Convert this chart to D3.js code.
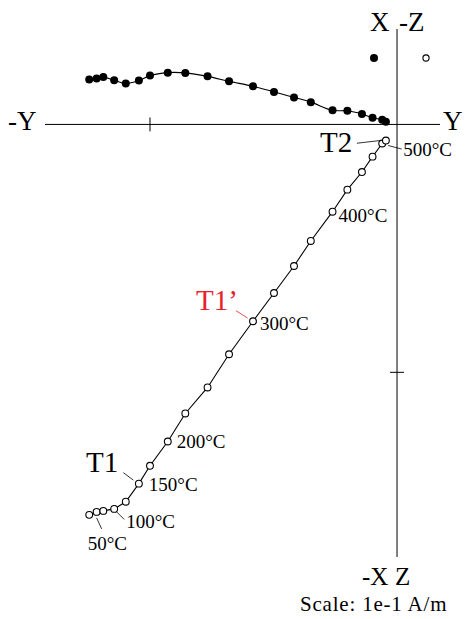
<!DOCTYPE html>
<html lang="en">
<head>
<meta charset="UTF-8">
<title>Zijderveld diagram</title>
<script src="https://cdn.jsdelivr.net/npm/d3@7"></script>
<style>
  body { margin: 0; background: #fff; }
  svg { display: block; font-family: "Liberation Serif", "DejaVu Serif", serif; }
</style>
</head>
<body>
<svg id="chart" width="467" height="619"></svg>
<script>
// demagnetisation steps (°C)
const temps = [25, 50, 75, 100, 125, 150, 175, 200, 225, 250, 275, 300, 325, 350, 375, 400, 425, 450, 475, 500, 525]
// components, units of 1e-1 A/m
const compY = [-1.246, -1.216, -1.189, -1.145, -1.098, -1.045, -1.000, -0.928, -0.857, -0.767, -0.680,
               -0.583, -0.498, -0.417, -0.349, -0.261, -0.201, -0.142, -0.099, -0.060, -0.045]
const compX = [0.181, 0.185, 0.191, 0.178, 0.165, 0.177, 0.197, 0.209, 0.208, 0.194, 0.174,
               0.154, 0.131, 0.109, 0.090, 0.057, 0.055, 0.042, 0.027, 0.019, 0.011]
const compZ = [1.575, 1.563, 1.559, 1.551, 1.522, 1.449, 1.377, 1.279, 1.166, 1.061, 0.927,
               0.794, 0.680, 0.571, 0.470, 0.352, 0.263, 0.192, 0.130, 0.077, 0.065]
const labelledTemps = [50, 100, 150, 200, 300, 400, 500]

const svg = d3.select('#chart')

const x = d3.scaleLinear().domain([-1.425, 0.174]).range([45, 440])
// screen-down axis: -X (horizontal plane) or +Z (vertical plane)
const y = d3.scaleLinear().domain([-0.385, 1.745]).range([29, 557])

const pts = temps.map((t, i) => ({ t, Y: compY[i], X: compX[i], Z: compZ[i] }))

// axes
const g = svg.append('g').attr('stroke', '#000').attr('stroke-width', 1)
g.append('line').attr('x1', x.range()[0]).attr('x2', x.range()[1]).attr('y1', y(0)).attr('y2', y(0))
g.append('line').attr('x1', x(0)).attr('x2', x(0)).attr('y1', y.range()[0]).attr('y2', y.range()[1])
g.append('line').attr('x1', x(-1)).attr('x2', x(-1)).attr('y1', y(0) - 7).attr('y2', y(0) + 7)
g.append('line').attr('x1', x(0) - 7).attr('x2', x(0) + 7).attr('y1', y(1)).attr('y2', y(1))

const axisText = [
    { t: '-Y', x: 8, y: 130, s: 27 },
    { t: 'Y', x: 443, y: 130, s: 27 },
    { t: 'X', x: 370, y: 31, s: 27 },
    { t: '-Z', x: 399, y: 31, s: 27 },
    { t: '-X', x: 362, y: 585, s: 25 },
    { t: 'Z', x: 395, y: 585, s: 25 },
]
svg.selectAll('text.ax').data(axisText).join('text')
    .attr('class', 'ax')
    .attr('x', d => d.x).attr('y', d => d.y)
    .style('font-size', d => `${d.s}px`)
    .text(d => d.t)

svg.append('text').attr('x', 300).attr('y', 611)
    .style('font-size', '21px').style('letter-spacing', '0.8px')
    .text('Scale: 1e-1 A/m')

// lines
svg.append('path')
    .attr('d', d3.line().curve(d3.curveCatmullRom).x(d => x(d.Y)).y(d => y(-d.X))(pts))
    .attr('fill', 'none').attr('stroke', '#000').attr('stroke-width', 1.1)
svg.append('path')
    .attr('d', d3.line().x(d => x(d.Y)).y(d => y(d.Z))(pts))
    .attr('fill', 'none').attr('stroke', '#000').attr('stroke-width', 1.1)

// horizontal projection (filled)
svg.selectAll('circle.h').data(pts).join('circle')
    .attr('class', 'h')
    .attr('cx', d => x(d.Y)).attr('cy', d => y(-d.X)).attr('r', 4)
    .attr('fill', '#000')

// vertical projection (open)
svg.selectAll('circle.v').data(pts).join('circle')
    .attr('class', 'v')
    .attr('cx', d => x(d.Y)).attr('cy', d => y(d.Z)).attr('r', 3.4)
    .attr('fill', '#fff').attr('stroke', '#000').attr('stroke-width', 1.1)

// legend symbols
svg.append('circle').attr('cx', 374).attr('cy', 58).attr('r', 4).attr('fill', '#000')
svg.append('circle').attr('cx', 426).attr('cy', 58).attr('r', 3.1).attr('fill', '#fff')
    .attr('stroke', '#000').attr('stroke-width', 1.1)

// temperature labels: text offset and leader relative to the point
const labelPos = {
    50: { dx: -9, dy: 38, l: [0, 6, 5, 17] },
    100: { dx: 12, dy: 19, l: [2.5, 3, 10, 10.5] },
    150: { dx: 10, dy: 7 },
    200: { dx: 9, dy: 7 },
    300: { dx: 7, dy: 9 },
    400: { dx: 6, dy: 10 },
    500: { dx: 21, dy: 12, l: [6, 2, 19.5, 5.5] },
}
pts.filter(d => labelledTemps.includes(d.t)).forEach(d => {
    const p = labelPos[d.t]
    const px = x(d.Y), py = y(d.Z)
    svg.append('text').attr('x', px + p.dx).attr('y', py + p.dy)
        .style('font-size', '19px').text(`${d.t}°C`)
    if (p.l) {
        svg.append('line')
            .attr('x1', px + p.l[0]).attr('y1', py + p.l[1])
            .attr('x2', px + p.l[2]).attr('y2', py + p.l[3])
            .attr('stroke', '#000').attr('stroke-width', 0.8)
    }
})

// component labels
const comps = [
    { t: 'T1', temp: 150, tx: 86, ty: 472, l: [-15.5, -11, -5.5, -3.5], c: '#000' },
    { t: 'T2', temp: 525, tx: 320, ty: 152, l: [-29, 2.7, -6, 0], c: '#000' },
    { t: 'T1’', temp: 300, tx: 196, ty: 310, l: [-17, -10.5, -5.5, -3.3], c: '#e8202a' },
]
comps.forEach(c => {
    const d = pts.find(p => p.t === c.temp)
    const px = x(d.Y), py = y(d.Z)
    svg.append('text').attr('x', c.tx).attr('y', c.ty)
        .style('font-size', '29px').attr('fill', c.c).text(c.t)
    svg.append('line')
        .attr('x1', px + c.l[0]).attr('y1', py + c.l[1])
        .attr('x2', px + c.l[2]).attr('y2', py + c.l[3])
        .attr('stroke', c.c).attr('stroke-width', 0.8)
})
</script>
</body>
</html>
